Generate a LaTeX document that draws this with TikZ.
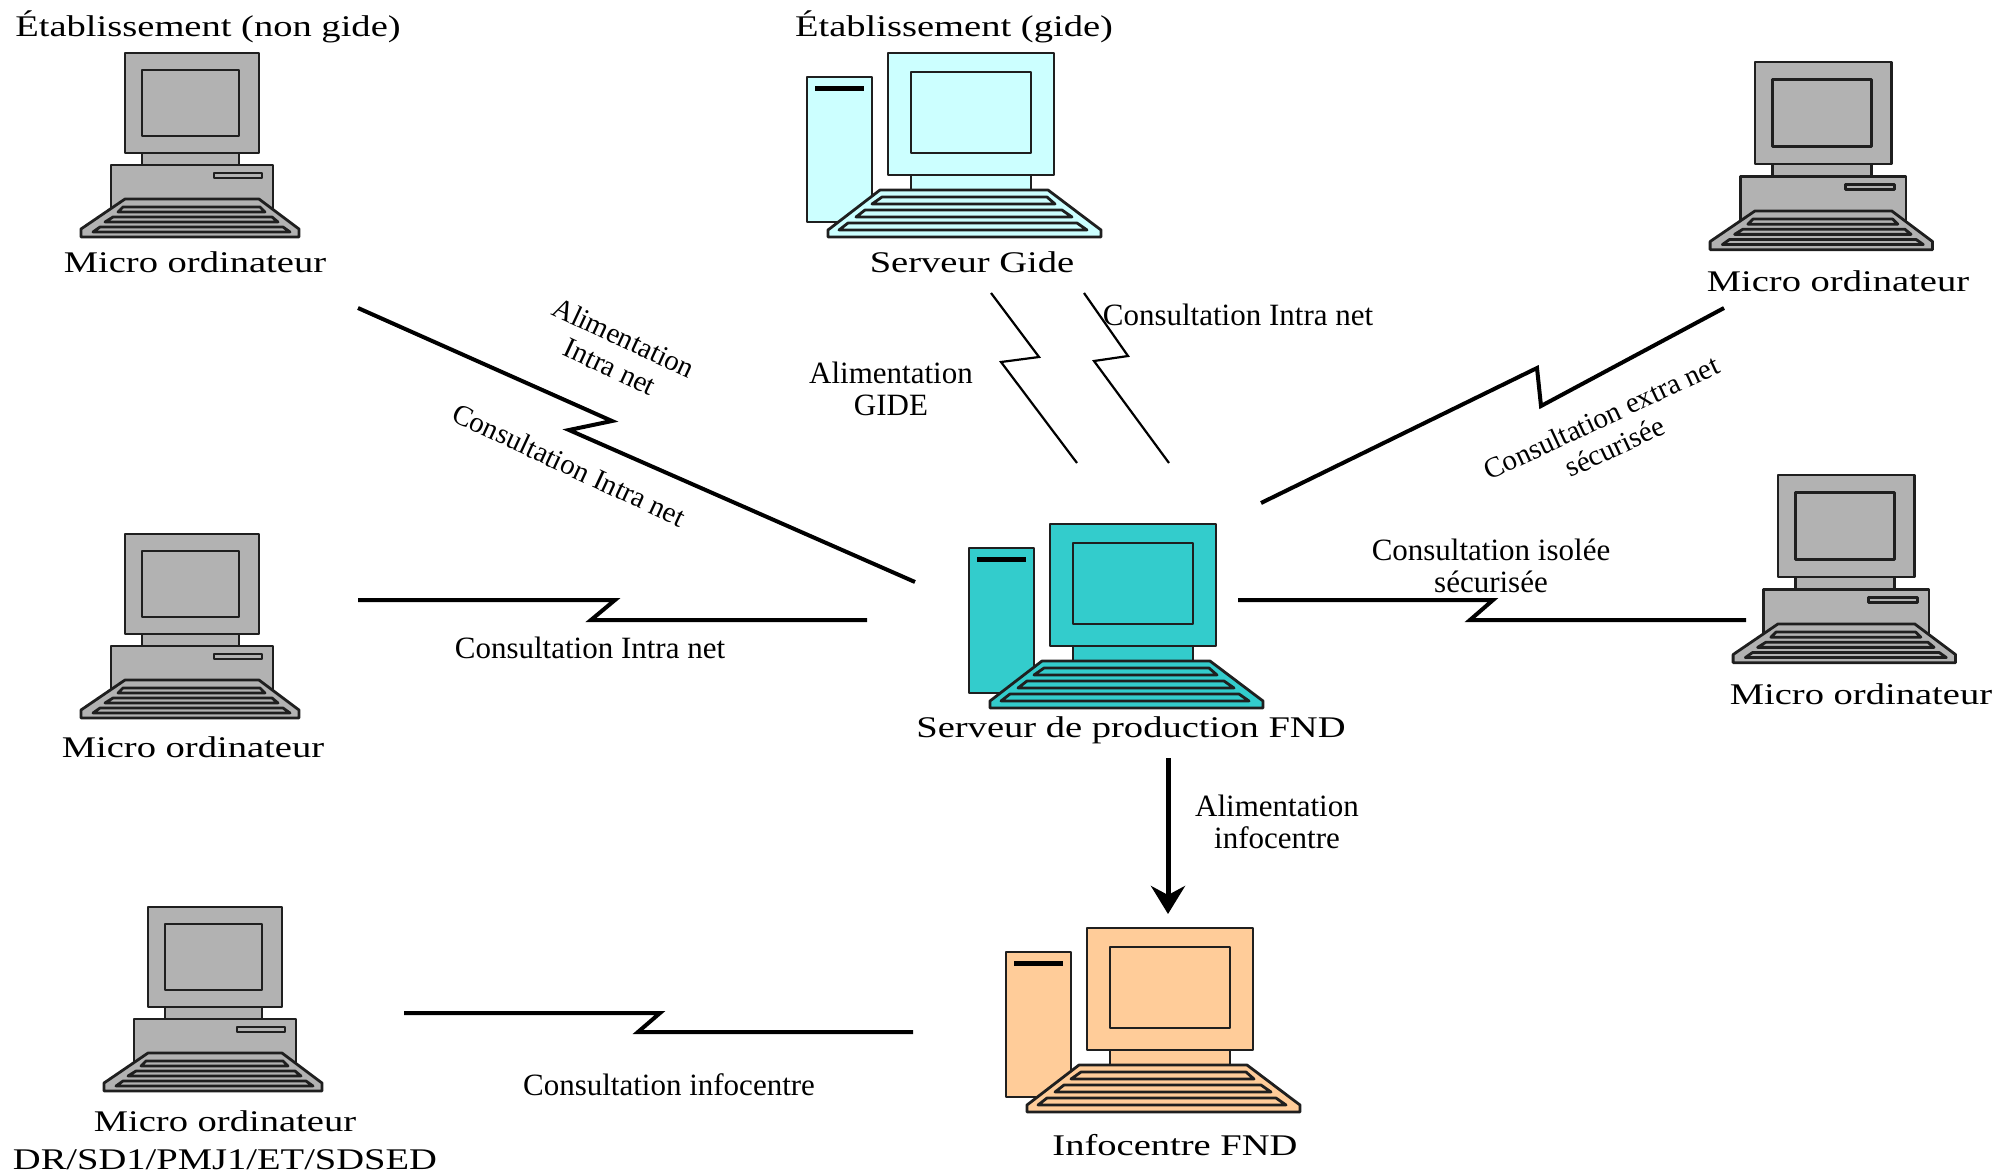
\documentclass[tikz,border=0pt]{standalone}
\usepackage{fontspec}
\setmainfont{Liberation Serif}
\newfontfamily\widefont[FakeStretch=1.285]{Liberation Serif}
\usetikzlibrary{arrows.meta}
\definecolor{microgrey}{HTML}{B2B2B2}
\definecolor{gidecyan}{HTML}{CCFFFF}
\definecolor{fndteal}{HTML}{33CCCC}
\definecolor{infoorange}{HTML}{FFCC99}
\tikzset{
  part/.style={draw=black!88,line width=2.8pt,line join=round},
  capname/.style={font=\widefont\fontsize{30}{32}\selectfont,align=center,inner sep=0pt},
  lab/.style={font=\fontsize{31}{32}\selectfont,align=center,inner sep=0pt},
  rotlab/.style={font=\fontsize{29}{32}\selectfont,align=center,inner sep=0pt},
  wire/.style={draw=black,line width=4pt,line join=miter},
  thinwire/.style={draw=black,line width=2.2pt,line join=miter},
  arrowwire/.style={draw=black,line width=5pt},
  pics/micro/.style={code={
    \draw[part,fill=microgrey] (17,100) rectangle (114,112);
    \draw[part,fill=microgrey] (-14,112) rectangle (148,164);
    \draw[part,fill=microgrey] (89,120) rectangle (137,125);
    \draw[part,fill=microgrey] (0,0) rectangle (134,100);
    \draw[part,fill=microgrey] (17,17) rectangle (114,83);
    \draw[part,fill=microgrey] (0,146) -- (134,146) -- (174,176) -- (174,184) -- (-44,184) -- (-44,176) -- cycle;
    \draw[part,fill=microgrey] (-2,154) -- (135,154) -- (140,159) -- (-7,159) -- cycle;
    \draw[part,fill=microgrey] (-12,164) -- (147,164) -- (153,169) -- (-20,169) -- cycle;
    \draw[part,fill=microgrey] (-25,174) -- (158,174) -- (165,179) -- (-32,179) -- cycle;
  }},
  pics/server/.style={code={
    \draw[part,fill=#1] (-81,24) rectangle (-16,169);
    \fill[black] (-73,33) rectangle (-24,38);
    \draw[part,fill=#1] (23,122) rectangle (143,137);
    \draw[part,fill=#1] (0,0) rectangle (166,122);
    \draw[part,fill=#1] (23,19) rectangle (143,100);
    \draw[part,fill=#1] (-8,137) -- (160,137) -- (213,177) -- (213,184) -- (-60,184) -- (-60,177) -- cycle;
    \draw[part,fill=#1] (-6,144) -- (159,144) -- (167,151) -- (-16,151) -- cycle;
    \draw[part,fill=#1] (-23,157) -- (174,157) -- (184,164) -- (-32,164) -- cycle;
    \draw[part,fill=#1] (-40,170) -- (189,170) -- (199,177) -- (-49,177) -- cycle;
  }},
}
\begin{document}
\begin{tikzpicture}[x=1pt,y=-1pt]
\useasboundingbox (0,0) rectangle (2013,1173);
% computers
\pic (pcA) at (125,53) {micro};
\pic (pcB) at (125,534) {micro};
\pic (pcC) at (148,907) {micro};
\pic[scale=1.02] (pcD) at (1755,62) {micro};
\pic[scale=1.02] (pcE) at (1778,475) {micro};
\pic (srvG) at (888,53) {server=gidecyan};
\pic (srvF) at (1050,524) {server=fndteal};
\pic (srvI) at (1087,928) {server=infoorange};
% captions
\node[capname] (t1) at (208,27) {Établissement (non gide)};
\node[capname] (t2) at (954,27) {Établissement (gide)};
\node[capname] (c1) at (195,262) {Micro ordinateur};
\node[capname] (c2) at (193,747) {Micro ordinateur};
\node[capname] (c3) at (225,1121) {Micro ordinateur};
\node[capname] (c3b) at (225,1160) {DR/SD1/PMJ1/ET/SDSED};
\node[capname] (c4) at (1838,281) {Micro ordinateur};
\node[capname] (c5) at (1861,694) {Micro ordinateur};
\node[capname] (c6) at (972,262) {Serveur Gide};
\node[capname] (c7) at (1131,730) {Serveur de production FND};
\node[capname] (c8) at (1175,1145) {Infocentre FND};
% connector ends
\coordinate (a1) at (358,308); \coordinate (a2) at (612,421); \coordinate (a3) at (569,430); \coordinate (a4) at (915,582);
\coordinate (b1) at (358,600); \coordinate (b2) at (615,600); \coordinate (b3) at (591,620); \coordinate (b4) at (867,620);
\coordinate (e1) at (1261,503); \coordinate (e2) at (1537,368); \coordinate (e3) at (1541,406); \coordinate (e4) at (1724,308);
\coordinate (d1) at (1238,600); \coordinate (d2) at (1493,600); \coordinate (d3) at (1470,620); \coordinate (d4) at (1746,620);
\coordinate (i1) at (404,1013); \coordinate (i2) at (660,1013); \coordinate (i3) at (638,1032); \coordinate (i4) at (913,1032);
\coordinate (f1) at (1168,758); \coordinate (f2) at (1168,914);
\coordinate (g1) at (991,293); \coordinate (g2) at (1039,357); \coordinate (g3) at (1001,362); \coordinate (g4) at (1077,463);
\coordinate (h1) at (1084,293); \coordinate (h2) at (1128,356); \coordinate (h3) at (1094,361); \coordinate (h4) at (1169,463);
% connectors
\draw[wire] (a1) -- (a2) -- (a3) -- (a4);
\draw[wire] (b1) -- (b2) -- (b3) -- (b4);
\draw[wire] (e1) -- (e2) -- (e3) -- (e4);
\draw[wire] (d1) -- (d2) -- (d3) -- (d4);
\draw[wire] (i1) -- (i2) -- (i3) -- (i4);
\draw[thinwire] (g1) -- (g2) -- (g3) -- (g4);
\draw[thinwire] (h1) -- (h2) -- (h3) -- (h4);
\draw[arrowwire,-{Stealth[length=28pt,width=34pt,inset=9pt]}] (f1) -- (f2);
% labels
\node[rotlab,rotate=-25] (l1) at (617,352) {Alimentation\\Intra net};
\node[rotlab,rotate=-25] (l2) at (569,465) {Consultation Intra net};
\node[lab] (l3) at (891,389) {Alimentation\\GIDE};
\node[lab] (l4) at (1238,315) {Consultation Intra net};
\node[rotlab,rotate=25] (l5) at (1608,432) {Consultation extra net\\sécurisée};
\node[lab] (l6) at (1491,566) {Consultation isolée\\sécurisée};
\node[lab] (l7) at (590,648) {Consultation Intra net};
\node[lab] (l8) at (1277,822) {Alimentation\\infocentre};
\node[lab] (l9) at (669,1085) {Consultation infocentre};
\end{tikzpicture}
\end{document}
